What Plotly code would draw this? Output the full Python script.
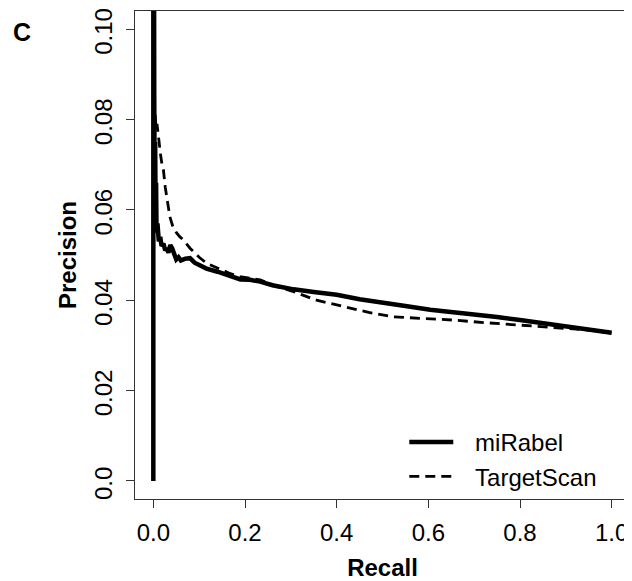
import plotly.graph_objects as go

# miRabel precision-recall curve (solid)
mirabel_recall = [0.0, 0.0, 0.001, 0.0015, 0.002, 0.003, 0.004, 0.005, 0.006, 0.007, 0.009,
                  0.012, 0.015, 0.018, 0.022, 0.026, 0.029, 0.033, 0.037, 0.041, 0.045,
                  0.05, 0.055, 0.06, 0.07, 0.08, 0.09, 0.1, 0.116, 0.14, 0.17, 0.19,
                  0.211, 0.233, 0.26, 0.306, 0.35, 0.4, 0.45, 0.502, 0.55, 0.604, 0.65,
                  0.691, 0.75, 0.8, 0.85, 0.909, 0.95, 1.0]
mirabel_precision = [0.0, 0.2, 0.095, 0.07, 0.085, 0.062, 0.075, 0.058, 0.066, 0.055, 0.057,
                     0.053, 0.054, 0.052, 0.0525, 0.051, 0.0515, 0.0505, 0.0522, 0.0515, 0.0505,
                     0.049, 0.0495, 0.0488, 0.0492, 0.0493, 0.0483, 0.0478, 0.047, 0.0463, 0.0452, 0.0446,
                     0.0445, 0.0441, 0.0433, 0.0424, 0.0418, 0.0412, 0.0402, 0.0393, 0.0387, 0.0379, 0.0374,
                     0.0371, 0.0363, 0.0356, 0.0349, 0.0341, 0.0335, 0.0328]

# TargetScan precision-recall curve (dashed)
targetscan_recall = [0.004, 0.006, 0.008, 0.01, 0.013, 0.016, 0.019, 0.022, 0.026, 0.03,
                     0.036, 0.042, 0.05, 0.058, 0.066, 0.08, 0.1, 0.116, 0.14, 0.165,
                     0.189, 0.233, 0.27, 0.306, 0.356, 0.4, 0.429, 0.47, 0.524, 0.582,
                     0.604, 0.655, 0.727, 0.8, 0.837, 0.9, 0.95, 1.0]
targetscan_precision = [0.081, 0.078, 0.079, 0.077, 0.0755, 0.072, 0.07, 0.0688, 0.065, 0.062,
                        0.0585, 0.0565, 0.055, 0.054, 0.0533, 0.0515, 0.0495, 0.0482, 0.0472, 0.046,
                        0.0452, 0.0445, 0.043, 0.0419, 0.04, 0.039, 0.0382, 0.0373, 0.0363, 0.036,
                        0.0358, 0.0356, 0.035, 0.0345, 0.0343, 0.0339, 0.0334, 0.0327]

x_ticks = [0.0, 0.2, 0.4, 0.6, 0.8, 1.0]
x_tick_labels = ["0.0", "0.2", "0.4", "0.6", "0.8", "1.0"]
y_ticks = [0.0, 0.02, 0.04, 0.06, 0.08, 0.10]
y_tick_labels = ["0.0", "0.02", "0.04", "0.06", "0.08", "0.10"]

FONT = "Liberation Sans, Arial, Helvetica, sans-serif"

fig = go.Figure()
fig.add_trace(go.Scatter(x=mirabel_recall, y=mirabel_precision, mode="lines",
                         name="\u2002\u2009miRabel", line=dict(color="black", width=4.5)))
fig.add_trace(go.Scatter(x=targetscan_recall, y=targetscan_precision, mode="lines",
                         name="\u2002\u2009TargetScan",
                         line=dict(color="black", width=2.8, dash="10px,6px")))

axis_common = dict(showgrid=False, zeroline=False, showline=True, mirror=True,
                   automargin=False, ticklabeloverflow="allow",
                   linecolor="#333", linewidth=1, ticks="outside", ticklen=8,
                   tickwidth=1, tickcolor="#333",
                   tickfont=dict(family=FONT, size=24, color="black"))

fig.update_xaxes(range=[-0.04, 1.04], tickvals=x_ticks, ticktext=x_tick_labels,
                 ticklabelstandoff=4,
                 title=dict(text="<b>Recall</b>", font=dict(family=FONT, size=24, color="black"),
                            standoff=16),
                 **axis_common)
# a trailing en space nudges each rotated label slightly downward, as in the reference
fig.update_yaxes(range=[-0.004, 0.104], tickvals=y_ticks,
                 ticktext=[t + "\u2002" for t in y_tick_labels],
                 tickangle=-90, ticklabelstandoff=4,
                 title=dict(text="<b>Precision</b>", font=dict(family=FONT, size=24, color="black"),
                            standoff=7),
                 **axis_common)

fig.add_annotation(text="<b>C</b>", xref="paper", yref="paper", x=-0.228, y=0.957,
                   xanchor="center", yanchor="middle",
                   showarrow=False, font=dict(family=FONT, size=25, color="black"))

# page body has an 8px default margin, so the figure is 8px smaller than the window
fig.update_layout(
    width=624, height=573,
    margin=dict(l=127, r=2, t=3, b=82, autoexpand=False),
    plot_bgcolor="white", paper_bgcolor="white",
    font=dict(family=FONT, size=24, color="black"),
    legend=dict(x=0.544, y=0.0, xanchor="left", yanchor="bottom",
                bgcolor="rgba(0,0,0,0)", borderwidth=0, itemwidth=44,
                font=dict(family=FONT, size=24, color="black")),
)

fig.write_html("out.html")
